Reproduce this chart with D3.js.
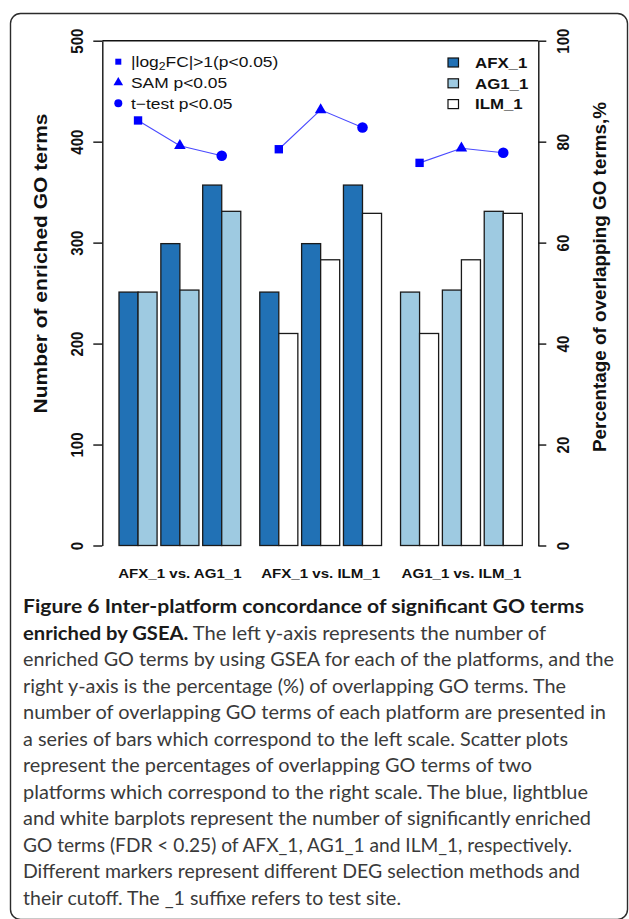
<!DOCTYPE html>
<html>
<head>
<meta charset="utf-8">
<script src="https://cdn.jsdelivr.net/npm/d3@7"></script>
<style>
  body { margin: 0; background: #fff; }
  svg { display: block; }
</style>
</head>
<body>
<svg id="fig" width="629" height="919"></svg>
<script>
// ---- data ----
const comparisons = ["AFX_1 vs. AG1_1", "AFX_1 vs. ILM_1", "AG1_1 vs. ILM_1"];
const comparisonPlatforms = [["AFX_1", "AG1_1"], ["AFX_1", "ILM_1"], ["AG1_1", "ILM_1"]];
const methods = ["log2FC", "SAM", "t-test"];
const platforms = ["AFX_1", "AG1_1", "ILM_1"];
const platformColors = ["#2171B5", "#9ECAE1", "#FFFFFF"];
// number of enriched GO terms for each DEG method
const enrichedAFX = [251, 299, 357];
const enrichedAG1 = [251, 253, 331];
const enrichedILM = [210, 283, 329];
// percentage of overlapping GO terms for each DEG method
const overlapAFXvsAG1 = [84.2, 79.2, 77.2];
const overlapAFXvsILM = [78.5, 86.3, 82.8];
const overlapAG1vsILM = [75.8, 78.7, 77.8];
const leftTicks = [0, 100, 200, 300, 400, 500];
const rightTicks = [0, 20, 40, 60, 80, 100];
const captionTitle = "Figure 6 Inter-platform concordance of significant GO terms";
const captionLines = [
  ["enriched by GSEA.", " The left y-axis represents the number of"],
  ["", "enriched GO terms by using GSEA for each of the platforms, and the"],
  ["", "right y-axis is the percentage (%) of overlapping GO terms. The"],
  ["", "number of overlapping GO terms of each platform are presented in"],
  ["", "a series of bars which correspond to the left scale. Scatter plots"],
  ["", "represent the percentages of overlapping GO terms of two"],
  ["", "platforms which correspond to the right scale. The blue, lightblue"],
  ["", "and white barplots represent the number of significantly enriched"],
  ["", "GO terms (FDR < 0.25) of AFX_1, AG1_1 and ILM_1, respectively."],
  ["", "Different markers represent different DEG selection methods and"],
  ["", "their cutoff. The _1 suffixe refers to test site."]
];
const captionEnds = [584, 546, 614, 566, 606, 568, 532, 588, 591, 572, 580, 401];

const enriched = { "AFX_1": enrichedAFX, "AG1_1": enrichedAG1, "ILM_1": enrichedILM };
const overlaps = [overlapAFXvsAG1, overlapAFXvsILM, overlapAG1vsILM];
const colorOf = d3.scaleOrdinal(platforms, platformColors);

// ---- layout ----
const svg = d3.select("#fig");
const FONT = "'Liberation Sans', Arial, sans-serif";
const SX = 1.16; // horizontal stretch of the plot lettering

svg.append("rect")
  .attr("x", 10.5).attr("y", 13.5).attr("width", 617).attr("height", 906)
  .attr("rx", 10).attr("fill", "none").attr("stroke", "#2b2b2b").attr("stroke-width", 1.4);

const yLeft = d3.scaleLinear([0, 500], [545.5, 40.7]);
const yRight = d3.scaleLinear([0, 100], [545.5, 40.7]);
const xLeftAxis = 102.3, xRightAxis = 538.3;

const xGroup = d3.scaleBand(comparisons, [119, 522.3]).paddingInner(0.135);
const xPair = d3.scaleBand(methods, [0, xGroup.bandwidth()]).paddingInner(0.09);
const xBar = d3.scaleBand([0, 1], [0, xPair.bandwidth()]);

// top border of the plotting region
svg.append("line")
  .attr("x1", xLeftAxis).attr("x2", xRightAxis)
  .attr("y1", yLeft(500)).attr("y2", yLeft(500))
  .attr("stroke", "#111").attr("stroke-width", 1.4);

// ---- bars ----
const bars = [];
comparisons.forEach((c, gi) => {
  methods.forEach((m, mi) => {
    comparisonPlatforms[gi].forEach((p, bi) => {
      bars.push({ c, m, bi, p, v: enriched[p][mi] });
    });
  });
});
svg.append("g").selectAll("rect").data(bars).join("rect")
  .attr("x", d => xGroup(d.c) + xPair(d.m) + xBar(d.bi))
  .attr("y", d => yLeft(d.v))
  .attr("width", xBar.bandwidth())
  .attr("height", d => yLeft(0) - yLeft(d.v))
  .attr("fill", d => colorOf(d.p))
  .attr("stroke", "#1a1a1a").attr("stroke-width", 1.3);

// ---- overlap percentages ----
const shapes = [d3.symbolSquare, d3.symbolTriangle, d3.symbolCircle];
const shapeSizes = [70, 58, 88];
const pts = [];
comparisons.forEach((c, gi) => {
  methods.forEach((m, mi) => {
    pts.push({ gi, mi, x: xGroup(c) + xPair(m) + xPair.bandwidth() / 2, y: yRight(overlaps[gi][mi]) });
  });
});
const line = d3.line().x(d => d.x).y(d => d.y);
svg.append("g").selectAll("path").data(d3.groups(pts, d => d.gi)).join("path")
  .attr("d", d => line(d[1]))
  .attr("fill", "none").attr("stroke", "#4a4aff").attr("stroke-width", 1.1);
svg.append("g").selectAll("path").data(pts).join("path")
  .attr("transform", d => `translate(${d.x},${d.y})`)
  .attr("d", d => d3.symbol(shapes[d.mi], shapeSizes[d.mi])())
  .attr("fill", "#0000ff");

// ---- axes ----
function styleAxis(g, labelOffset) {
  g.select(".domain").attr("stroke", "#111").attr("stroke-width", 1.4);
  g.selectAll(".tick line").attr("stroke", "#111").attr("stroke-width", 1.4);
  g.selectAll(".tick text")
    .attr("x", null).attr("dy", null).attr("y", null)
    .attr("text-anchor", "middle")
    .attr("transform", `translate(${labelOffset},0) rotate(-90) scale(1,${SX})`)
    .attr("font-family", FONT).attr("font-weight", "bold").attr("font-size", 15)
    .attr("fill", "#111");
}
svg.append("g").attr("transform", `translate(${xLeftAxis},0)`)
  .call(d3.axisLeft(yLeft).tickValues(leftTicks).tickSize(9).tickSizeOuter(0))
  .call(g => styleAxis(g, -19.6));
svg.append("g").attr("transform", `translate(${xRightAxis},0)`)
  .call(d3.axisRight(yRight).tickValues(rightTicks).tickSize(8).tickSizeOuter(0))
  .call(g => styleAxis(g, 31));

// axis titles
svg.append("text")
  .attr("transform", `translate(47,263.5) rotate(-90) scale(1,${SX})`)
  .attr("text-anchor", "middle")
  .attr("font-family", FONT).attr("font-weight", "bold").attr("font-size", 16).attr("fill", "#111")
  .attr("textLength", 300).attr("lengthAdjust", "spacingAndGlyphs")
  .text("Number of enriched GO terms");
svg.append("text")
  .attr("transform", `translate(606,277) rotate(-90) scale(1,${SX})`)
  .attr("text-anchor", "middle")
  .attr("font-family", FONT).attr("font-weight", "bold").attr("font-size", 16).attr("fill", "#111")
  .attr("textLength", 350).attr("lengthAdjust", "spacingAndGlyphs")
  .text("Percentage of overlapping GO terms,%");

// group labels
svg.append("g").selectAll("text").data(comparisons).join("text")
  .attr("transform", d => `translate(${xGroup(d) + xGroup.bandwidth() / 2},578) scale(${SX},1)`)
  .attr("text-anchor", "middle")
  .attr("font-family", FONT).attr("font-weight", "bold").attr("font-size", 13).attr("fill", "#111")
  .text(d => d);

// ---- legends ----
const legendRowsY = [61.7, 82.5, 103.3];
const methodLegend = svg.append("g");
methods.forEach((m, i) => {
  methodLegend.append("path")
    .attr("transform", `translate(118.3,${legendRowsY[i]})`)
    .attr("d", d3.symbol(shapes[i], [36, 40, 50][i])())
    .attr("fill", "#0000ff");
  const t = methodLegend.append("text")
    .attr("transform", `translate(131,${legendRowsY[i] + 5.5}) scale(${SX},1)`)
    .attr("font-family", FONT).attr("font-size", 15).attr("fill", "#111");
  if (i === 0) {
    t.append("tspan").text("|log");
    t.append("tspan").attr("font-size", 10.5).attr("dy", 3).text("2");
    t.append("tspan").attr("dy", -3).text("FC|>1(p<0.05)");
  } else if (i === 1) {
    t.text("SAM p<0.05");
  } else {
    t.text("t\u2212test p<0.05");
  }
});

const platformLegend = svg.append("g");
platforms.forEach((p, i) => {
  const cy = legendRowsY[i] + 0.8;
  platformLegend.append("rect")
    .attr("x", 448).attr("y", cy - 4.5).attr("width", 10.5).attr("height", 9)
    .attr("fill", colorOf(p)).attr("stroke", "#111").attr("stroke-width", 1.2);
  platformLegend.append("text")
    .attr("transform", `translate(475,${cy + 5.2}) scale(${SX},1)`)
    .attr("font-family", FONT).attr("font-weight", "bold").attr("font-size", 14.5).attr("fill", "#111")
    .text(p);
});

// ---- caption ----
const CAP_FONT = "Lato, 'Open Sans', sans-serif";
const capX = 23, capY0 = 613, capStep = 26.5;
const allLines = [[captionTitle, ""]].concat(captionLines);
allLines.forEach((l, i) => {
  const t = svg.append("text")
    .attr("x", capX).attr("y", capY0 + i * capStep)
    .attr("font-family", CAP_FONT).attr("font-size", 19)
    .attr("textLength", captionEnds[i] - capX)
    .attr("lengthAdjust", "spacingAndGlyphs");
  if (l[0]) t.append("tspan").attr("font-weight", "bold").attr("fill", "#1a1a1a").text(l[0]);
  if (l[1]) t.append("tspan").attr("fill", "#3a3a3a").text(l[1]);
});
</script>
</body>
</html>
